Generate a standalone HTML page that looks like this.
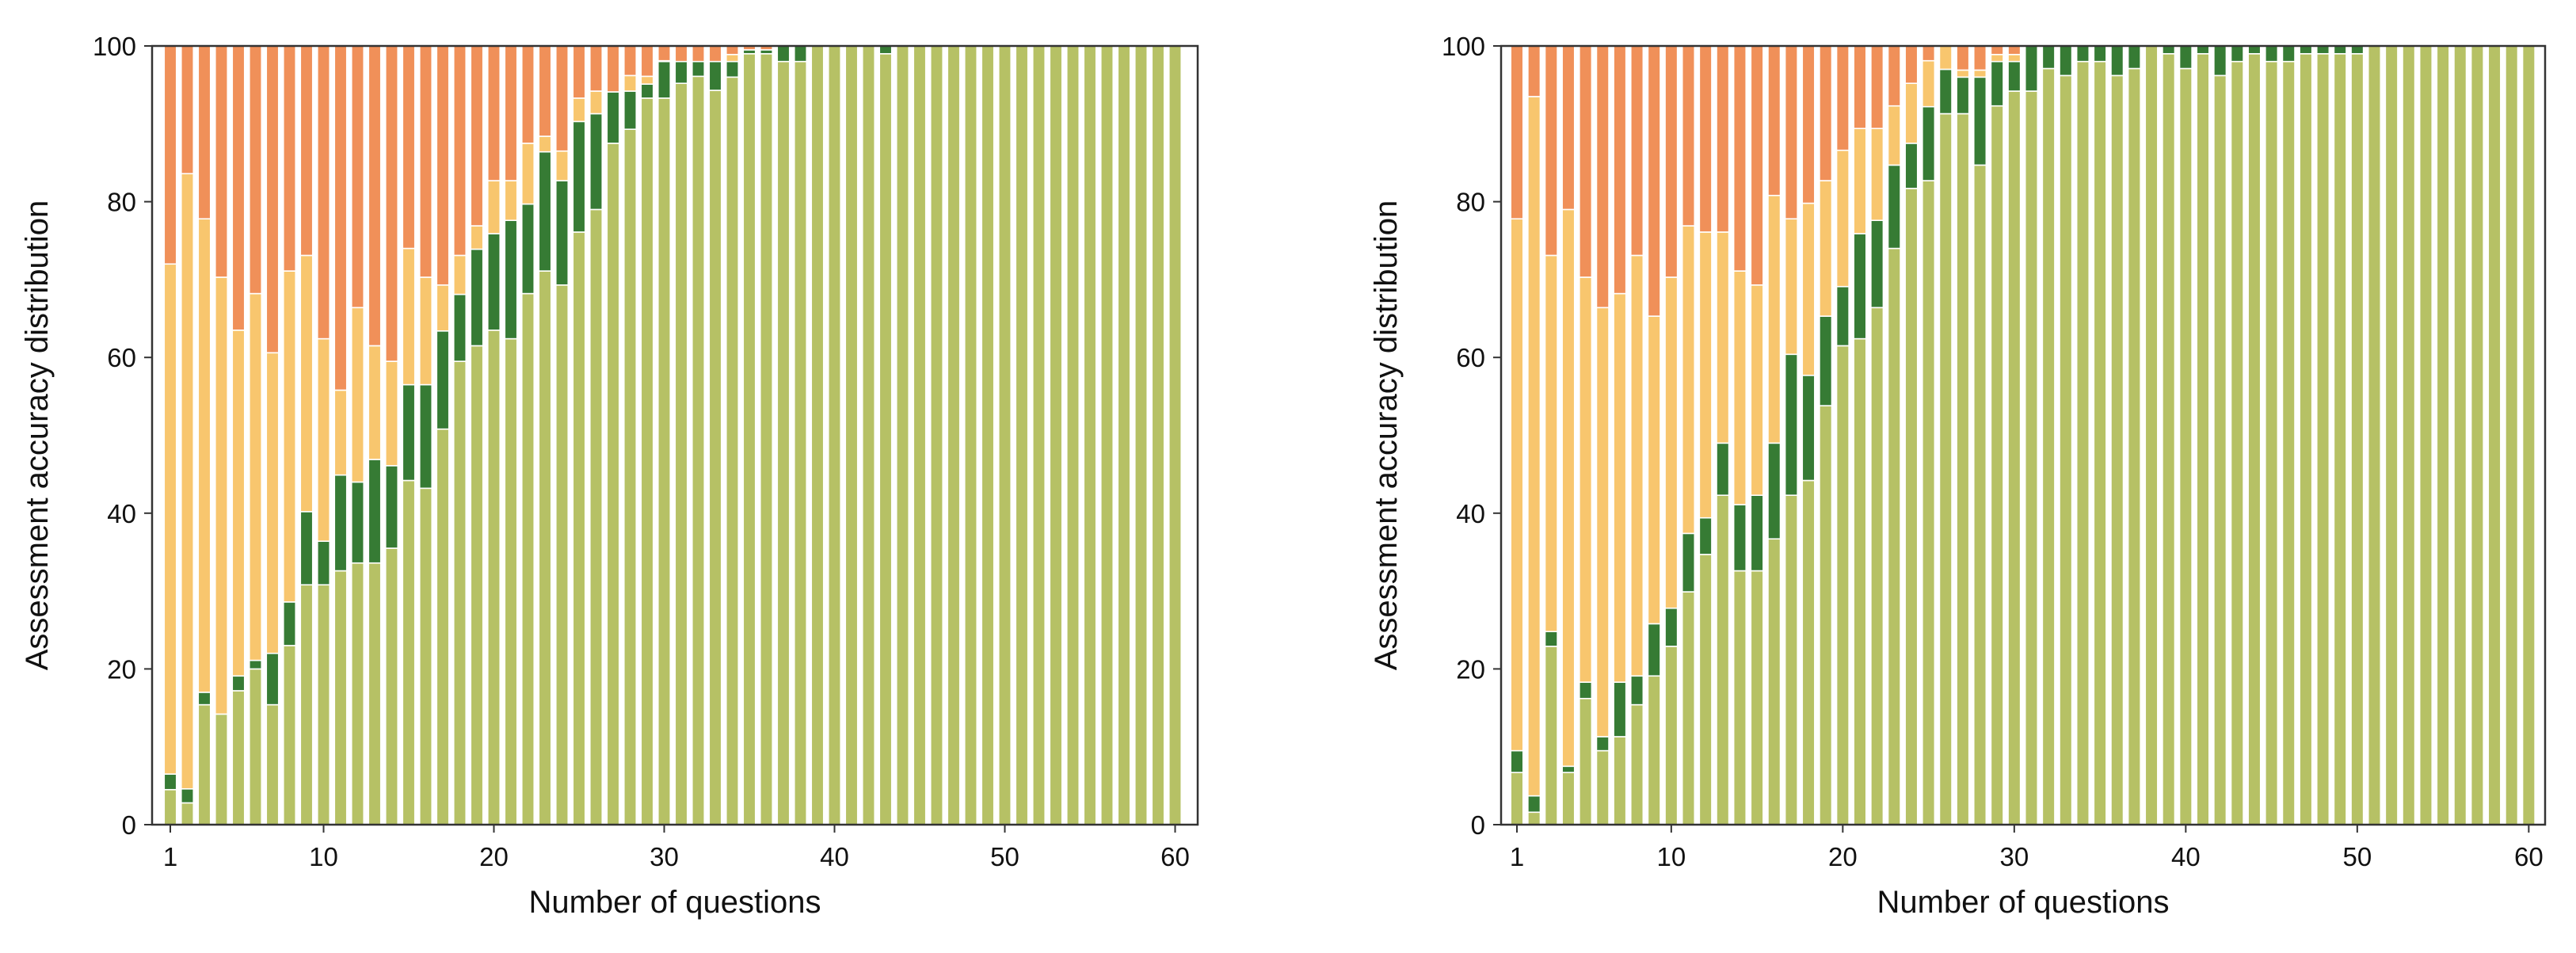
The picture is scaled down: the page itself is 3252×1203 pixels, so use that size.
<!DOCTYPE html>
<html><head><meta charset="utf-8"><style>
html,body{margin:0;padding:0;background:#fff;}
svg{display:block;font-family:"Liberation Sans","DejaVu Sans",sans-serif;}
</style></head><body>
<svg id="chart" width="3252" height="1203" viewBox="0 0 3252 1203"></svg>
<script>
// Left panel data (cumulative stack tops, %)
const questions = Array.from({length:60},(_,i)=>i+1);
const leftGreen = [4.5,2.8,15.4,14.2,17.2,20,15.4,23,30.8,30.8,32.6,33.6,33.6,35.5,44.2,43.2,50.8,59.5,61.5,63.5,62.4,68.2,71.1,69.3,76.1,79,87.5,89.3,93.3,93.3,95.2,96.1,94.3,96,99,99,98,98,100,100,100,100,99,100,100,100,100,100,100,100,100,100,100,100,100,100,100,100,100,100];
const leftDark = [6.5,4.6,17,14.2,19.1,21.1,22,28.6,40.2,36.4,44.9,44,46.9,46.1,56.5,56.5,63.4,68.1,73.9,75.9,77.6,79.7,86.4,82.7,90.3,91.3,94.1,94.2,95.1,98,98,98,98,98,99.5,99.5,100,100,100,100,100,100,100,100,100,100,100,100,100,100,100,100,100,100,100,100,100,100,100,100];
const leftYellow = [72,83.6,77.8,70.3,63.5,68.2,60.6,71.1,73.1,62.4,55.8,66.4,61.5,59.5,74,70.3,69.3,73.1,76.9,82.7,82.7,87.5,88.4,86.5,93.3,94.2,94.1,96.2,96.1,98.1,98,98,98,98.9,99.5,99.5,100,100,100,100,100,100,100,100,100,100,100,100,100,100,100,100,100,100,100,100,100,100,100,100];
// Right panel data
const rightGreen = [6.7,1.6,22.9,6.7,16.2,9.5,11.3,15.4,19.1,22.9,29.9,34.7,42.3,32.6,32.6,36.7,42.3,44.2,53.8,61.5,62.4,66.4,74,81.7,82.7,91.3,91.3,84.7,92.3,94.2,94.2,97.1,96.2,98,98,96.2,97.1,100,99,97.1,99,96.2,98,99,98,98,99,99,99,99,100,100,100,100,100,100,100,100,100,100];
const rightDark = [9.5,3.7,24.8,7.5,18.3,11.3,18.3,19.1,25.8,27.8,37.4,39.4,49,41.1,42.3,49,60.4,57.7,65.3,69.1,75.9,77.6,84.7,87.5,92.2,97,96,96,98,98,100,100,100,100,100,100,100,100,100,100,100,100,100,100,100,100,100,100,100,100,100,100,100,100,100,100,100,100,100,100];
const rightYellow = [77.8,93.5,73.1,79,70.3,66.4,68.2,73.1,65.3,70.3,76.9,76.1,76.1,71.1,69.3,80.8,77.8,79.8,82.7,86.6,89.4,89.4,92.3,95.2,98.1,100,96.9,96.9,98.9,98.9,100,100,100,100,100,100,100,100,100,100,100,100,100,100,100,100,100,100,100,100,100,100,100,100,100,100,100,100,100,100];
const xTicks = [1,10,20,30,40,50,60];
const yTicks = [0,20,40,60,80,100];

const NS="http://www.w3.org/2000/svg";
const svg=document.getElementById('chart');
const C={g:'#b6c165',d:'#367b34',y:'#f8c66e',o:'#f09059'};
function mk(tag,attrs,parent){const e=document.createElementNS(NS,tag);for(const k in attrs)e.setAttribute(k,attrs[k]);(parent||svg).appendChild(e);return e;}

function panel(id,left,right,x1px,pitch,g,d,yl){
  const top=58,bot=1041;
  const grp=mk('g',{});
  
  
  const xs=v=>x1px+(v-1)*pitch;
  const ys=v=>bot-(v/100)*(bot-top);
  const bw=pitch*0.72;
  questions.forEach((q,i)=>{
    const segs=[[0,g[i],C.g,'correct'],[g[i],d[i],C.d,'partly-correct'],[d[i],yl[i],C.y,'partly-wrong'],[yl[i],100,C.o,'wrong']];
    segs.forEach(s=>{
      if(s[1]-s[0]<=0.01)return;
      const r=mk('rect',{x:xs(q)-bw/2,y:ys(s[1]),width:bw,height:ys(s[0])-ys(s[1]),fill:s[2],stroke:'#fff','stroke-width':1.6},grp);
      
      
    });
  });
  const frame=mk('rect',{x:left,y:top,width:right-left,height:bot-top,fill:'none',stroke:'#333','stroke-width':2.5},grp);
  
  
  xTicks.forEach(t=>{
    mk('line',{x1:xs(t),x2:xs(t),y1:bot,y2:bot+10,stroke:'#333','stroke-width':2},grp);
    const tx=mk('text',{x:xs(t),y:1093,'font-size':33,'text-anchor':'middle',fill:'#111'},grp);
    tx.textContent=t;
    
    
  });
  yTicks.forEach(t=>{
    mk('line',{x1:left-10,x2:left,y1:ys(t),y2:ys(t),stroke:'#333','stroke-width':2},grp);
    const tx=mk('text',{x:left-20,y:ys(t)+12,'font-size':33,'text-anchor':'end',fill:'#111'},grp);
    tx.textContent=t;
    
    
  });
  const xt=mk('text',{x:(left+right)/2,y:1152,'font-size':40,'text-anchor':'middle',fill:'#111'},grp);
  xt.textContent='Number of questions';
  
  
  const yx=left-132, yy=(top+bot)/2;
  const yt=mk('text',{x:yx,y:yy,'font-size':40,'text-anchor':'middle',fill:'#111',transform:`rotate(-90 ${yx} ${yy})`},grp);
  yt.textContent='Assessment accuracy distribution';
  
  
}
panel('left',192,1512,215,21.5,leftGreen,leftDark,leftYellow);
panel('right',1895,3213,1915,21.65,rightGreen,rightDark,rightYellow);
</script>
</body></html>
